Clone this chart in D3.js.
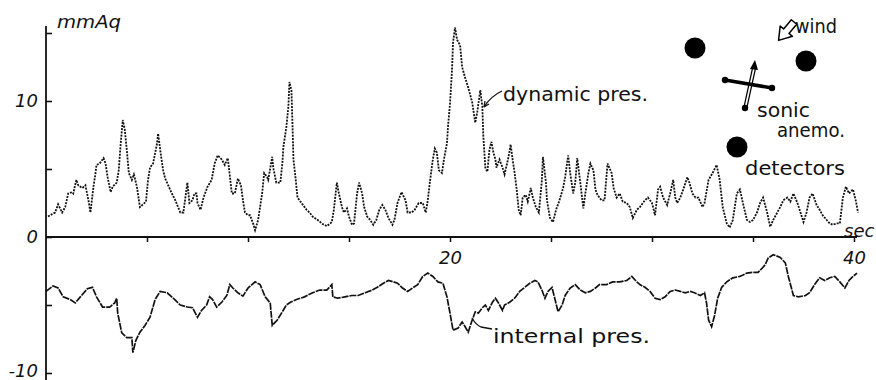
<!DOCTYPE html>
<html>
<head>
<meta charset="utf-8">
<script src="https://cdn.jsdelivr.net/npm/d3@7/dist/d3.min.js"></script>
<style>
  body { margin: 0; background: #fff; }
  svg text { font-family: "DejaVu Sans", sans-serif; fill: #111; }
</style>
</head>
<body>
<div id="viz"></div>
<script>
// dynamic pressure, [sec, mmAq]
const dynamicPres = [
  [0.1,1.5],[0.2,1.6],[0.45,1.8],[0.6,2.4],[0.8,1.8],[0.95,2.2],[1.1,3.2],[1.3,3.3],[1.35,3.2],[1.5,4.2],
  [1.6,3.8],[1.8,3.6],[1.95,3.8],[2.1,2.7],[2.2,1.8],[2.35,3.7],[2.45,4.7],[2.5,5.3],[2.65,5.4],[2.85,5.8],
  [2.95,5.4],[3.05,4.4],[3.2,3.3],[3.3,3.7],[3.5,4.0],[3.6,4.9],[3.7,6.9],[3.8,8.6],[3.9,7.9],[4.0,6.4],
  [4.1,4.7],[4.25,4.2],[4.35,4.6],[4.5,3.7],[4.65,2.2],[4.8,2.4],[4.95,2.6],[5.05,4.2],[5.15,5.1],[5.3,5.4],
  [5.5,6.9],[5.55,7.6],[5.7,5.9],[5.8,4.9],[5.9,4.3],[6.05,3.8],[6.2,3.3],[6.4,2.7],[6.65,1.8],[6.8,1.8],
  [7.0,4.0],[7.1,2.5],[7.25,2.7],[7.35,3.2],[7.45,3.2],[7.5,2.5],[7.65,2.0],[7.8,2.9],[8.0,3.7],[8.2,4.2],
  [8.35,5.4],[8.5,6.0],[8.7,5.7],[8.85,5.3],[9.0,5.8],[9.2,3.2],[9.35,3.2],[9.5,4.3],[9.65,3.8],[9.75,2.7],
  [9.85,1.8],[10.0,1.6],[10.1,1.6],[10.25,1.0],[10.35,0.5],[10.5,1.25],[10.7,3.2],[10.8,4.7],[10.95,4.4],[11.0,4.2],
  [11.2,5.9],[11.25,5.1],[11.4,4.0],[11.6,4.0],[11.7,5.4],[11.75,6.6],[11.9,8.1],[12.0,9.6],[12.05,11.4],[12.15,10.8],
  [12.2,8.4],[12.25,5.7],[12.35,4.4],[12.45,2.9],[12.6,2.6],[12.7,2.4],[12.9,2.0],[13.05,1.8],[13.2,1.5],[13.45,1.25],
  [13.7,0.95],[13.9,0.8],[14.15,1.1],[14.25,2.0],[14.4,4.0],[14.5,3.2],[14.65,2.2],[14.75,1.8],[14.9,2.1],[15.0,1.5],
  [15.15,0.9],[15.25,1.0],[15.4,3.2],[15.5,4.0],[15.65,3.2],[15.75,2.2],[15.9,1.5],[16.05,1.25],[16.2,0.9],[16.35,1.25],
  [16.5,2.0],[16.65,2.35],[16.8,2.0],[16.95,1.4],[17.15,0.9],[17.25,1.25],[17.4,2.5],[17.5,2.9],[17.6,3.3],[17.8,2.7],
  [17.9,1.8],[18.1,1.8],[18.25,2.0],[18.45,2.5],[18.65,2.5],[18.8,1.8],[18.9,2.7],[19.0,4.0],[19.15,5.7],[19.25,6.5],
  [19.35,6.2],[19.45,4.9],[19.6,4.7],[19.7,5.7],[19.85,6.9],[19.9,8.1],[20.0,9.8],[20.1,12.3],[20.15,14.3],[20.25,15.4],
  [20.35,14.5],[20.5,14.1],[20.6,12.5],[20.75,11.7],[20.9,11.0],[21.1,9.9],[21.25,8.4],[21.35,9.2],[21.5,10.8],[21.6,9.6],
  [21.65,7.4],[21.75,5.1],[21.85,4.8],[21.95,6.4],[22.05,7.0],[22.15,6.2],[22.25,5.7],[22.3,5.1],[22.45,5.7],[22.6,5.1],
  [22.7,4.6],[22.9,5.9],[23.0,6.8],[23.1,5.7],[23.2,4.7],[23.3,3.5],[23.4,2.0],[23.5,1.6],[23.6,2.9],[23.75,3.1],
  [23.85,2.6],[24.0,3.6],[24.1,2.9],[24.25,2.2],[24.4,1.8],[24.55,4.2],[24.6,5.9],[24.75,4.0],[24.8,2.7],[24.95,1.4],
  [25.1,1.1],[25.25,2.0],[25.4,2.6],[25.6,3.6],[25.7,4.4],[25.85,6.0],[25.95,4.7],[26.1,3.2],[26.2,4.0],[26.3,5.8],
  [26.45,4.0],[26.6,2.1],[26.7,3.2],[26.85,4.7],[26.95,5.4],[27.1,4.9],[27.2,3.5],[27.3,3.1],[27.5,2.7],[27.65,2.7],
  [27.8,5.4],[28.0,4.7],[28.1,3.6],[28.25,2.9],[28.4,3.2],[28.55,2.6],[28.75,2.5],[28.9,2.2],[29.05,1.4],[29.25,2.0],
  [29.4,2.2],[29.65,2.7],[29.8,2.9],[30.0,2.5],[30.15,1.6],[30.3,3.5],[30.4,3.7],[30.55,2.9],[30.75,2.35],[30.9,3.2],
  [31.05,4.2],[31.15,2.9],[31.25,2.5],[31.4,2.9],[31.55,3.5],[31.75,4.4],[31.85,4.0],[32.0,3.2],[32.15,2.9],[32.3,2.9],
  [32.5,2.2],[32.6,2.5],[32.8,4.2],[33.0,4.7],[33.2,5.3],[33.35,4.2],[33.5,2.2],[33.7,1.0],[33.85,0.7],[34.0,1.25],
  [34.2,3.2],[34.35,3.5],[34.5,2.5],[34.7,1.25],[34.85,1.1],[35.0,1.25],[35.2,1.8],[35.35,2.5],[35.5,2.9],[35.7,1.8],
  [35.85,0.75],[36.0,1.25],[36.2,1.8],[36.35,2.2],[36.5,2.7],[36.7,2.9],[36.85,2.6],[37.0,3.2],[37.2,2.5],[37.35,1.8],
  [37.5,1.1],[37.65,1.8],[37.8,2.9],[37.95,3.2],[38.15,2.35],[38.3,2.0],[38.45,1.6],[38.65,1.25],[38.8,1.0],[38.95,0.9],
  [39.15,1.0],[39.3,1.0],[39.45,2.9],[39.6,3.7],[39.75,3.2],[39.95,3.5],[40.1,2.6],[40.2,1.8]
];

// internal pressure, [sec, mmAq]
const internalPres = [
  [0.0,-4.0],[0.35,-3.6],[0.6,-3.75],[0.85,-4.4],[1.2,-4.6],[1.45,-4.85],[1.7,-4.4],[2.05,-3.8],[2.3,-3.7],[2.5,-4.4],
  [2.8,-5.15],[3.15,-5.15],[3.4,-4.85],[3.5,-4.5],[3.55,-5.6],[3.75,-7.05],[4.0,-7.4],[4.25,-7.4],[4.3,-8.5],[4.45,-7.6],
  [4.65,-7.0],[4.9,-6.5],[5.15,-5.9],[5.4,-4.6],[5.65,-4.0],[6.0,-4.1],[6.3,-4.5],[6.65,-5.0],[7.0,-5.15],[7.25,-5.2],
  [7.5,-5.9],[7.7,-5.4],[7.95,-5.0],[8.1,-4.4],[8.25,-4.6],[8.45,-5.15],[8.7,-4.8],[8.95,-4.3],[9.1,-3.5],[9.25,-3.75],
  [9.5,-4.1],[9.75,-4.35],[10.0,-3.75],[10.35,-3.3],[10.6,-3.5],[10.85,-4.4],[11.1,-4.85],[11.2,-6.5],[11.45,-6.1],[11.7,-5.5],
  [11.9,-5.0],[12.1,-4.8],[12.4,-4.6],[12.8,-4.4],[13.2,-4.1],[13.55,-3.9],[13.9,-3.9],[14.15,-3.5],[14.2,-4.4],[14.45,-4.5],
  [14.8,-4.4],[15.15,-4.3],[15.45,-4.3],[15.8,-4.1],[16.15,-3.9],[16.4,-3.7],[16.7,-3.4],[16.95,-3.2],[17.2,-3.3],[17.4,-3.4],
  [17.65,-3.75],[17.9,-4.0],[18.15,-3.75],[18.4,-3.5],[18.65,-2.9],[18.9,-2.65],[19.15,-2.9],[19.4,-3.3],[19.65,-3.4],[19.85,-4.4],
  [20.0,-5.6],[20.15,-6.85],[20.4,-6.7],[20.6,-6.25],[20.75,-6.6],[20.9,-7.0],[21.1,-6.1],[21.25,-5.5],[21.4,-5.6],[21.6,-5.2],
  [21.75,-5.0],[21.9,-5.4],[22.1,-4.8],[22.25,-4.5],[22.4,-4.85],[22.6,-5.4],[22.7,-5.0],[22.95,-4.8],[23.2,-4.5],[23.45,-4.0],
  [23.7,-3.7],[23.95,-3.4],[24.2,-3.2],[24.35,-3.3],[24.55,-3.9],[24.7,-4.5],[24.85,-4.0],[25.05,-3.7],[25.2,-4.6],[25.35,-5.5],
  [25.55,-5.0],[25.7,-4.3],[25.95,-3.75],[26.2,-3.5],[26.45,-3.9],[26.7,-4.1],[26.95,-4.0],[27.2,-3.75],[27.4,-3.5],[27.75,-3.5],
  [28.05,-3.3],[28.4,-3.3],[28.75,-3.2],[29.0,-2.9],[29.25,-3.3],[29.4,-3.5],[29.65,-3.7],[29.9,-4.0],[30.15,-4.5],[30.4,-4.6],
  [30.65,-4.4],[30.9,-4.0],[31.15,-3.9],[31.4,-4.0],[31.65,-4.1],[31.9,-4.0],[32.1,-4.1],[32.4,-4.3],[32.6,-4.1],[32.7,-4.85],
  [32.8,-6.1],[32.95,-6.6],[33.1,-5.75],[33.25,-4.5],[33.45,-3.7],[33.7,-3.3],[34.0,-3.0],[34.35,-2.9],[34.7,-2.65],[35.0,-2.6],
  [35.25,-2.6],[35.45,-2.3],[35.6,-2.05],[35.75,-1.55],[36.0,-1.3],[36.35,-1.5],[36.6,-1.9],[36.75,-2.9],[37.0,-4.3],[37.25,-4.4],
  [37.6,-4.3],[37.8,-4.1],[38.05,-3.5],[38.3,-3.0],[38.55,-3.2],[38.8,-3.0],[39.05,-2.9],[39.3,-3.3],[39.55,-3.75],[39.75,-3.2],
  [39.95,-2.9],[40.15,-2.65]
];

const xTicks = [5, 10, 15, 20, 25, 30, 35, 40];
const xLabels = [20, 40];
const yTicks = [-10, -5, 0, 5, 10, 15];
const yLabels = [-10, 0, 10];

const width = 876, height = 380;

const svg = d3.select("#viz")
  .append("svg")
    .attr("width", width)
    .attr("height", height);

const x = d3.scaleLinear().domain([0, 40]).range([46, 854]);
const y = d3.scaleLinear().domain([-10, 15]).range([373, 33]);

// y axis, ticks pointing inward
svg.append("g")
  .attr("transform", "translate(" + x(0) + ",0)")
  .call(d3.axisRight(y).tickValues(yTicks).tickSize(6).tickFormat(""))
  .call(g => g.select(".domain").remove())
  .call(g => g.selectAll(".tick line").attr("stroke", "#111").attr("stroke-width", 1.6));

svg.append("line")
  .attr("x1", x(0)).attr("x2", x(0))
  .attr("y1", 26).attr("y2", 380)
  .attr("stroke", "#111").attr("stroke-width", 1.8);

svg.append("g")
  .selectAll("text")
  .data(yLabels)
  .enter()
  .append("text")
    .attr("x", x(0) - 8)
    .attr("y", d => y(d))
    .attr("dy", d => d === -10 ? "0.2em" : "0.36em")
    .attr("text-anchor", "end")
    .style("font-style", "italic")
    .style("font-size", "18px")
    .text(d => d === -10 ? "-10" : d);

// time axis
svg.append("g")
  .attr("transform", "translate(0," + y(0) + ")")
  .call(d3.axisBottom(x).tickValues(xTicks).tickSize(5).tickPadding(9)
    .tickFormat(d => xLabels.includes(d) ? d : ""))
  .call(g => g.select(".domain").remove())
  .call(g => g.selectAll(".tick line").attr("stroke", "#111").attr("stroke-width", 1.5))
  .call(g => g.selectAll(".tick text")
    .style("font-family", "DejaVu Sans, sans-serif")
    .style("font-style", "italic")
    .style("font-size", "18px")
    .attr("fill", "#111"));

svg.append("line")
  .attr("x1", x(0)).attr("x2", x(40) + 3)
  .attr("y1", y(0)).attr("y2", y(0))
  .attr("stroke", "#111").attr("stroke-width", 2);

const line = d3.line()
  .x(d => x(d[0]))
  .y(d => y(d[1]));

svg.append("path")
  .datum(dynamicPres)
  .attr("d", line)
  .attr("fill", "none")
  .attr("stroke", "#111")
  .attr("stroke-width", 1.8)
  .attr("stroke-dasharray", "2,1.2");

svg.append("path")
  .datum(internalPres)
  .attr("d", line)
  .attr("fill", "none")
  .attr("stroke", "#111")
  .attr("stroke-width", 1.7)
  .attr("stroke-dasharray", "7,1");

// labels
const labels = [
  { t: "mmAq", x: 57, y: 28, size: 17, len: 64, italic: true },
  { t: "dynamic pres.", x: 503, y: 101, size: 20, len: 145 },
  { t: "internal pres.", x: 493, y: 343, size: 20, len: 157 },
  { t: "wind", x: 795, y: 33, size: 19, len: 42 },
  { t: "sonic", x: 757, y: 117, size: 19, len: 53 },
  { t: "anemo.", x: 777, y: 137, size: 19, len: 68 },
  { t: "detectors", x: 745, y: 175, size: 20, len: 100 },
  { t: "sec", x: 844, y: 237, size: 18, len: 0, italic: true }
];

svg.append("g")
  .selectAll("text")
  .data(labels)
  .enter()
  .append("text")
    .attr("x", d => d.x)
    .attr("y", d => d.y)
    .attr("textLength", d => d.len || null)
    .attr("lengthAdjust", "spacingAndGlyphs")
    .style("font-size", d => d.size + "px")
    .style("font-style", d => d.italic ? "italic" : "normal")
    .text(d => d.t);

// leaders
svg.append("path")
  .attr("d", "M502,91 Q491,96 484,107")
  .attr("fill", "none").attr("stroke", "#111").attr("stroke-width", 1.3);
svg.append("path")
  .attr("d", "M484,107 l1,-6 M484,107 l5,-3")
  .attr("fill", "none").attr("stroke", "#111").attr("stroke-width", 1.3);
svg.append("path")
  .attr("d", "M492,329 L481,327 Q476,325 472,318")
  .attr("fill", "none").attr("stroke", "#111").attr("stroke-width", 1.3);

// inset: detectors, sonic anemometer, wind
const detectors = [[695, 48], [806, 61], [737, 147]];
svg.append("g")
  .selectAll("circle")
  .data(detectors)
  .enter()
  .append("circle")
    .attr("cx", d => d[0])
    .attr("cy", d => d[1])
    .attr("r", 10.5)
    .attr("fill", "#000");

const anemo = svg.append("g");
anemo.append("line")
  .attr("x1", 725).attr("y1", 80).attr("x2", 772).attr("y2", 88)
  .attr("stroke", "#000").attr("stroke-width", 3.5).attr("stroke-linecap", "round");
anemo.append("line")
  .attr("x1", 753).attr("y1", 66).attr("x2", 744).attr("y2", 107)
  .attr("stroke", "#000").attr("stroke-width", 1.2);
anemo.append("line")
  .attr("x1", 756).attr("y1", 66).attr("x2", 747).attr("y2", 107)
  .attr("stroke", "#000").attr("stroke-width", 1.2);
anemo.append("path")
  .attr("d", "M755,60 L750,69 L758,70 Z")
  .attr("fill", "#000");
anemo.selectAll("circle")
  .data([[725, 80], [772, 88], [745, 108]])
  .enter()
  .append("circle")
    .attr("cx", d => d[0]).attr("cy", d => d[1]).attr("r", 3.2)
    .attr("fill", "#000");

svg.append("path")
  .attr("transform", "translate(794,22) rotate(130)")
  .attr("d", "M0,-3.5 L12,-3.5 L12,-8 L24,0 L12,8 L12,3.5 L0,3.5 Z")
  .attr("fill", "#fff")
  .attr("stroke", "#000")
  .attr("stroke-width", 1.5)
  .attr("stroke-linejoin", "round");
</script>
</body>
</html>
